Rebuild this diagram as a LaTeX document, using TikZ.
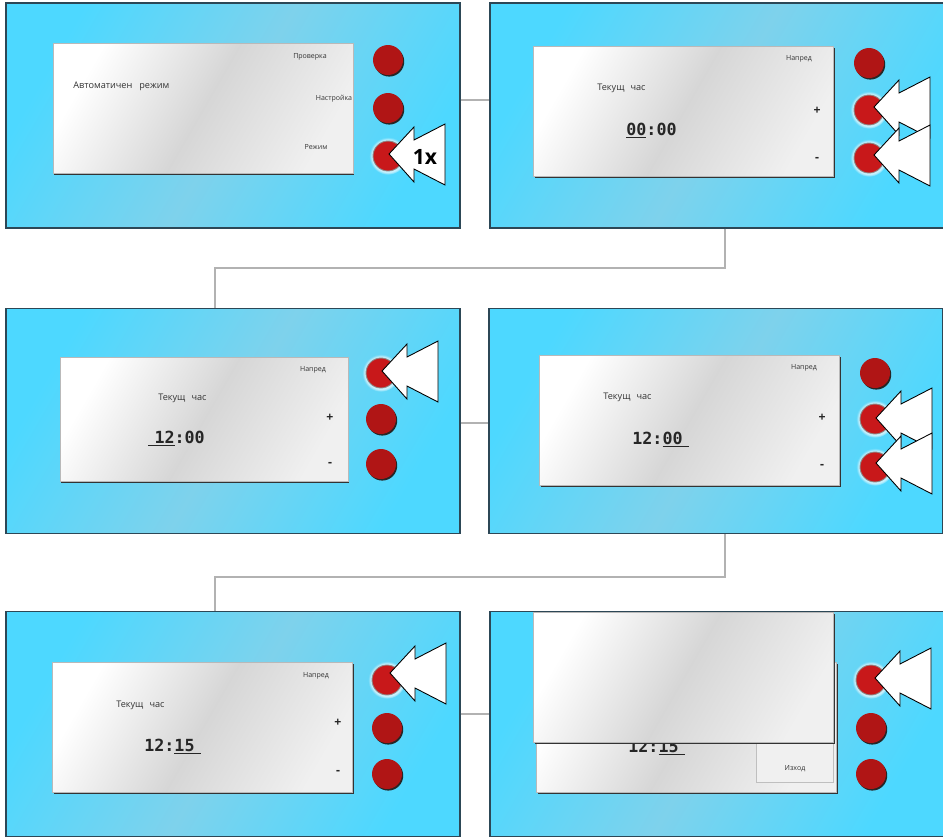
\documentclass[tikz,border=0pt]{standalone}
\usepackage{fontspec}
\setmainfont{Open Sans}
\newfontfamily\clockfont{DejaVu Sans Mono}
\usepackage{tikz}
\usetikzlibrary{positioning,shadows}
\definecolor{panelcyan}{HTML}{4DD8FF}
\definecolor{panelpale}{HTML}{7ED2EC}
\definecolor{panelrim}{HTML}{2C4756}
\definecolor{knobred}{HTML}{B01515}
\definecolor{knobhot}{HTML}{C8181A}
\tikzset{
  panel/.style={draw=panelrim, line width=0.8pt, left color=panelcyan, right color=panelcyan, middle color=panelpale, shading angle=60, minimum width=9.08cm, minimum height=4.5cm, inner sep=0pt},
  screen/.style={draw=gray!55, line width=0.3pt, left color=white, right color=black!6, middle color=black!16, shading angle=60, minimum width=6cm, minimum height=2.6cm, inner sep=0pt, drop shadow={shadow xshift=0.6pt, shadow yshift=-1.1pt, fill=black!80, opacity=1}},
  knob/.style={circle, fill=knobred, minimum size=0.6cm, inner sep=0pt, drop shadow={shadow xshift=0.7pt, shadow yshift=-0.9pt, fill=black!85, opacity=1}},
  knobon/.style={circle, fill=knobhot, draw=black!45, line width=0.5pt, minimum size=0.6cm, inner sep=0pt, circular glow={fill=white, opacity=0.7}},
  pointer/.style={draw=black, fill=white, line width=0.5pt, line join=miter},
  wire/.style={draw=black!30, line width=1pt},
  tag/.style={font=\fontsize{4}{5}\selectfont, text=black!80, inner sep=0pt},
  caption/.style={font=\fontsize{5.2}{6}\selectfont, text=black!80, anchor=west, inner sep=0pt},
  clock/.style={font=\clockfont\bfseries\fontsize{9.5}{11}\selectfont, text=black!85, anchor=base west, inner sep=0pt},
  sign/.style={font=\bfseries\fontsize{7}{8}\selectfont, text=black!85, inner sep=0pt},
  exitbox/.style={draw=gray!50, line width=0.3pt, fill=black!6, minimum width=1.54cm, minimum height=0.8cm, inner sep=0pt}
}
\newcommand{\pressarrow}[1]{\draw[pointer] #1 -- ++(25,-27) -- ++(0,13) -- ++(31,-16) -- ++(0,61) -- ++(-31,-16) -- ++(0,13) -- cycle;}

\begin{document}
\begin{tikzpicture}[x=0.02cm, y=-0.02cm]
  \useasboundingbox (0,0) rectangle (943,836);
  \clip (0,0) rectangle (943,836);

  % panels
  \node[panel] (p1) at (233,115.5) {};
  \node[panel] (p2) at (717,115.5) {};
  \node[panel] (p3) at (233,421) {};
  \node[panel] (p4) at (716,421) {};
  \node[panel] (p5) at (233,724) {};
  \node[panel] (p6) at (717,724) {};

  % wires between the steps
  \coordinate (k1) at (215,268);
  \coordinate (k2) at (215,577);
  \draw[wire] (p1.east |- 0,100) -- (p2.west |- 0,100);
  \draw[wire] (p2.south -| 725,0) |- (k1) -- (p3.north -| k1);
  \draw[wire] (p3.east |- 0,423) -- (p4.west |- 0,423);
  \draw[wire] (p4.south -| 725,0) |- (k2) -- (p5.north -| k2);
  \draw[wire] (p5.east |- 0,714) -- (p6.west |- 0,714);

  % step 1
  \node[screen] (s1) at (203,108.5) {};
  \node[caption] (t1) at (73,86) {Автоматичен\hspace{4pt}режим};
  \node[tag] (m11) at (310,57) {Проверка};
  \node[tag] (m12) at (334,99) {Настройка};
  \node[tag] (m13) at (316,147) {Режим};
  \node[knob] (b11) at (388,60) {};
  \node[knob] (b12) at (388,108) {};
  \node[knobon] (b13) at (388,156) {};
  \pressarrow{(b13) ++(1,-2)}
  \node[font=\bfseries\fontsize{12}{12}\selectfont, inner sep=0pt] (n1) at (425,157) {1x};

  % step 2
  \node[screen] (s2) at (683.5,111) {};
  \node[tag] (m21) at (799,59) {Напред};
  \node[caption] (t2) at (597,88) {Текущ\hspace{3.5pt}час};
  \node[clock] (c2) at (626,135) {\underline{00}:00};
  \node[sign] (g21) at (817,111) {+};
  \node[sign] (g22) at (817,159) {-};
  \node[knob] (b21) at (869,63) {};
  \node[knobon] (b22) at (869,110) {};
  \node[knobon] (b23) at (869,158) {};
  \pressarrow{(b22) ++(5,-3)}
  \pressarrow{(b23) ++(5,-3)}

  % step 3
  \node[screen, minimum width=5.76cm, minimum height=2.48cm] (s3) at (204,419) {};
  \node[tag] (m31) at (313,370) {Напред};
  \node[caption] (t3) at (158,398) {Текущ\hspace{3.5pt}час};
  \node[clock] (c3) at (148,443) {\underline{\hspace{3.5pt}12}:00};
  \node[sign] (g31) at (330,418) {+};
  \node[sign] (g32) at (330,464) {-};
  \node[knobon] (b31) at (381,373) {};
  \node[knob] (b32) at (381,419) {};
  \node[knob] (b33) at (381,464) {};
  \pressarrow{(b31) ++(1,-2)}

  % step 4
  \node[screen] (s4) at (689.5,420) {};
  \node[tag] (m41) at (804,368) {Напред};
  \node[caption] (t4) at (603,397) {Текущ\hspace{3.5pt}час};
  \node[clock] (c4) at (632,444) {12:\underline{00\hspace{3.5pt}}};
  \node[sign] (g41) at (822,418) {+};
  \node[sign] (g42) at (822,466) {-};
  \node[knob] (b41) at (875,373) {};
  \node[knobon] (b42) at (875,419) {};
  \node[knobon] (b43) at (875,467) {};
  \pressarrow{(b42) ++(1,-1)}
  \pressarrow{(b43) ++(1,-4)}

  % step 5
  \node[screen] (s5) at (202.5,727) {};
  \node[tag] (m51) at (316,676) {Напред};
  \node[caption] (t5) at (116,705) {Текущ\hspace{3.5pt}час};
  \node[clock] (c5) at (144,751) {12:\underline{15\hspace{3.5pt}}};
  \node[sign] (g51) at (338,723) {+};
  \node[sign] (g52) at (338,772) {-};
  \node[knobon] (b51) at (387,680) {};
  \node[knob] (b52) at (387,728) {};
  \node[knob] (b53) at (387,774) {};
  \pressarrow{(b51) ++(3,-7)}

  % step 6
  \node[screen] (s6) at (686.5,727) {};
  \node[clock] (c6) at (628,752) {12:\underline{15\hspace{3.5pt}}};
  \node[exitbox] (x6) at (794.5,762) {};
  \node[tag] (m61) at (795,769) {Изход};
  \node[screen] (f6) at (683.5,677) {};
  \node[knobon] (b61) at (871,680) {};
  \node[knob] (b62) at (871,728) {};
  \node[knob] (b63) at (871,774) {};
  \pressarrow{(b61) ++(4,-2)}
\end{tikzpicture}
\end{document}
